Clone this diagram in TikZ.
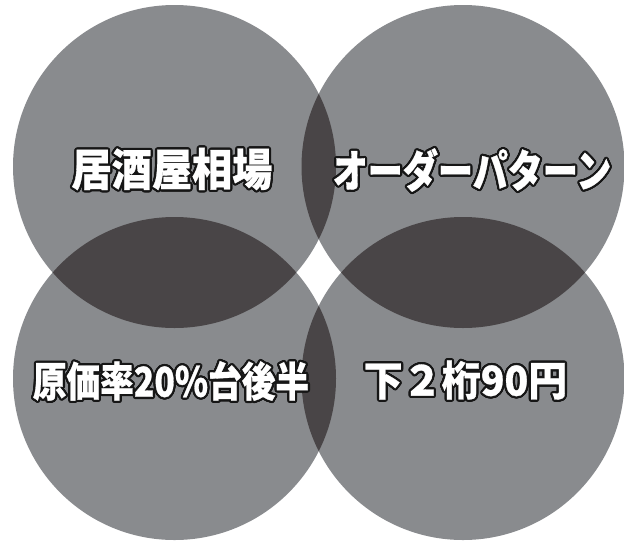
\documentclass[tikz,border=0pt]{standalone}
\usepackage{fontspec}
\usepackage{graphicx}
\usetikzlibrary{calc}
\newfontfamily\jp{Noto Sans CJK JP}[BoldFeatures={FakeBold=0.8}]
\definecolor{circfill}{RGB}{137,139,142}
\definecolor{lensfill}{RGB}{73,69,71}
\definecolor{outl}{RGB}{22,22,22}
% text set at a given size, squeezed horizontally
\newcommand\lbltxt[3]{\scalebox{#2}[1]{\fontsize{#1}{#1}\selectfont\jp\bfseries #3}}
\tikzset{
  circ/.style={fill=circfill},
  lens/.style={fill=lensfill},
  lbl/.style={inner sep=0pt, text=white},
  lblo/.style={inner sep=0pt, text=outl},
}
% \outlined{name}{x,y}{fontsize}{xscale}{text}: dark copies round a white text
\newcommand\outlined[5]{%
  \foreach \a in {0,22.5,...,337.5}{
    \node[lblo] at ($(#2)+(\a:2.2)$) {\lbltxt{#3}{#4}{#5}};
  }
  \node[lbl] (#1) at (#2) {\lbltxt{#3}{#4}{#5}};
}
\begin{document}
\begin{tikzpicture}[x=0.75pt,y=-0.75pt]
\useasboundingbox (0,0) rectangle (624,540);
\fill[white] (0,0) rectangle (624,540);
\coordinate (cTL) at (174.5,166.5);
\coordinate (cTR) at (463,166.5);
\coordinate (cBL) at (174.5,378.5);
\coordinate (cBR) at (463,378.5);
\def\R{161.5}
\foreach \c in {cTL,cTR,cBL,cBR}{ \fill[circ] (\c) circle (\R); }
% overlaps
\begin{scope}\clip (cTL) circle (\R); \fill[lens] (cTR) circle (\R); \end{scope}
\begin{scope}\clip (cBL) circle (\R); \fill[lens] (cBR) circle (\R); \end{scope}
\begin{scope}\clip (cTL) circle (\R); \fill[lens] (cBL) circle (\R); \end{scope}
\begin{scope}\clip (cTR) circle (\R); \fill[lens] (cBR) circle (\R); \end{scope}
% labels
\outlined{tTL}{172,169}{33.3pt}{0.905}{居酒屋相場}
\outlined{tTR}{472,170}{33.3pt}{0.79}{オーダーパターン}
\outlined{tBL}{171,381}{30.8pt}{0.82}{原価率20\%台後半}
\outlined{tBR}{465.5,380}{30.8pt}{0.95}{下２桁90円}
\end{tikzpicture}
\end{document}
